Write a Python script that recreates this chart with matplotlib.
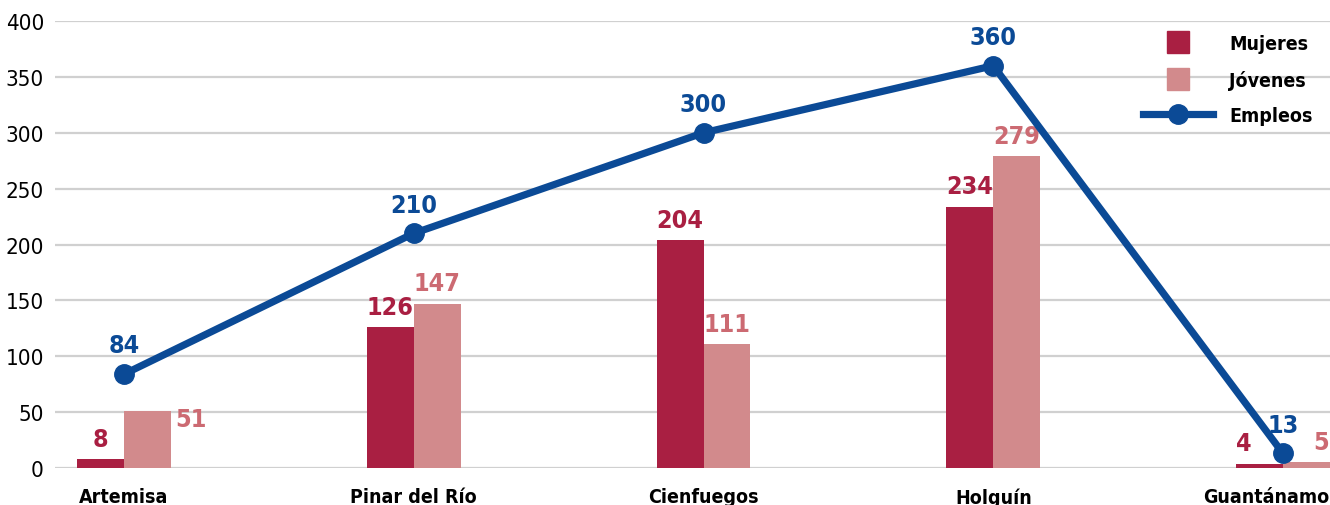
import numpy as np
import matplotlib
matplotlib.use("Agg")
import matplotlib.pyplot as plt
from matplotlib.lines import Line2D
from matplotlib.transforms import ScaledTranslation

plt.rcParams['font.family'] = ['DejaVu Sans']
plt.rcParams['font.stretch'] = 'condensed'

# Data
provincias = ['Artemisa', 'Pinar del Río', 'Cienfuegos', 'Holguín', 'Guantánamo']
mujeres = [8, 126, 204, 234, 4]
jovenes = [51, 147, 111, 279, 5]
empleos = [84, 210, 300, 360, 13]

c_muj = '#A91F42'
c_jov = '#D28A8C'
c_jov_txt = '#CC6A72'
c_emp = '#0B4A96'

fig = plt.figure(figsize=(13.3, 5.06), dpi=100)
ax = fig.add_axes([0.0414, 0.0731, 0.9586, 0.8834])

x = np.arange(len(provincias))
w = 0.162

ax.bar(x - w / 2, mujeres, width=w, color=c_muj, zorder=2)
ax.bar(x + w / 2, jovenes, width=w, color=c_jov, zorder=2)
ax.plot(x, empleos, color=c_emp, lw=5.2, marker='o', markersize=14, zorder=4,
        solid_capstyle='round')

lbl = dict(fontsize=18, fontweight='bold', va='bottom')

for i in range(len(provincias)):
    # mujeres labels
    if i == len(provincias) - 1:
        ax.annotate(str(mujeres[i]), (x[i] - w, mujeres[i]), xytext=(0, 6),
                    textcoords='offset points', color=c_muj, ha='left', **lbl)
    else:
        ax.annotate(str(mujeres[i]), (x[i] - w / 2, mujeres[i]), xytext=(0, 6),
                    textcoords='offset points', color=c_muj, ha='center', **lbl)
    # jovenes labels (nudged where the line gets in the way)
    if i == 0:
        ax.annotate(str(jovenes[i]), (x[i] + w, jovenes[i]), xytext=(3, -6),
                    textcoords='offset points', color=c_jov_txt, fontsize=18,
                    fontweight='bold', ha='left', va='center')
    elif i == len(provincias) - 1:
        ax.annotate(str(jovenes[i]), (x[i] + w, jovenes[i]), xytext=(-1, 6),
                    textcoords='offset points', color=c_jov_txt, ha='right', **lbl)
    else:
        ax.annotate(str(jovenes[i]), (x[i] + w / 2, jovenes[i]), xytext=(0, 6),
                    textcoords='offset points', color=c_jov_txt, ha='center', **lbl)
    ax.annotate(str(empleos[i]), (x[i], empleos[i]), xytext=(0, 12),
                textcoords='offset points', color=c_emp, ha='center', **lbl)

ax.set_xlim(-0.238, 4.162)
ax.set_ylim(0, 400)
ax.set_yticks(np.arange(0, 401, 50))
ax.set_xticks(x)
ax.set_xticklabels(provincias, fontsize=14, fontweight='bold')
ax.tick_params(axis='y', labelsize=16, length=0, pad=8)
ax.tick_params(axis='x', length=0, pad=14)
ax.yaxis.grid(True, color='#D0D0D0', lw=1.6, zorder=0)
ax.set_axisbelow(True)
for s in ax.spines.values():
    s.set_visible(False)

# last category label sits against the right edge
last = ax.get_xticklabels()[-1]
last.set_horizontalalignment('right')
last.set_transform(last.get_transform() + ScaledTranslation(0.46, 0, fig.dpi_scale_trans))

handles = [
    Line2D([], [], ls='none', marker='s', markersize=16, color=c_muj),
    Line2D([], [], ls='none', marker='s', markersize=16, color=c_jov),
    Line2D([], [], color=c_emp, lw=5.2, marker='o', markersize=14),
]
ax.legend(handles, ['Mujeres', 'Jóvenes', 'Empleos'], loc='upper right',
          bbox_to_anchor=(1.0, 1.01), frameon=False, handlelength=3.6,
          handletextpad=0.8, labelspacing=0.85,
          prop={'size': 14, 'weight': 'bold'})

fig.savefig('out.png', dpi=100)
